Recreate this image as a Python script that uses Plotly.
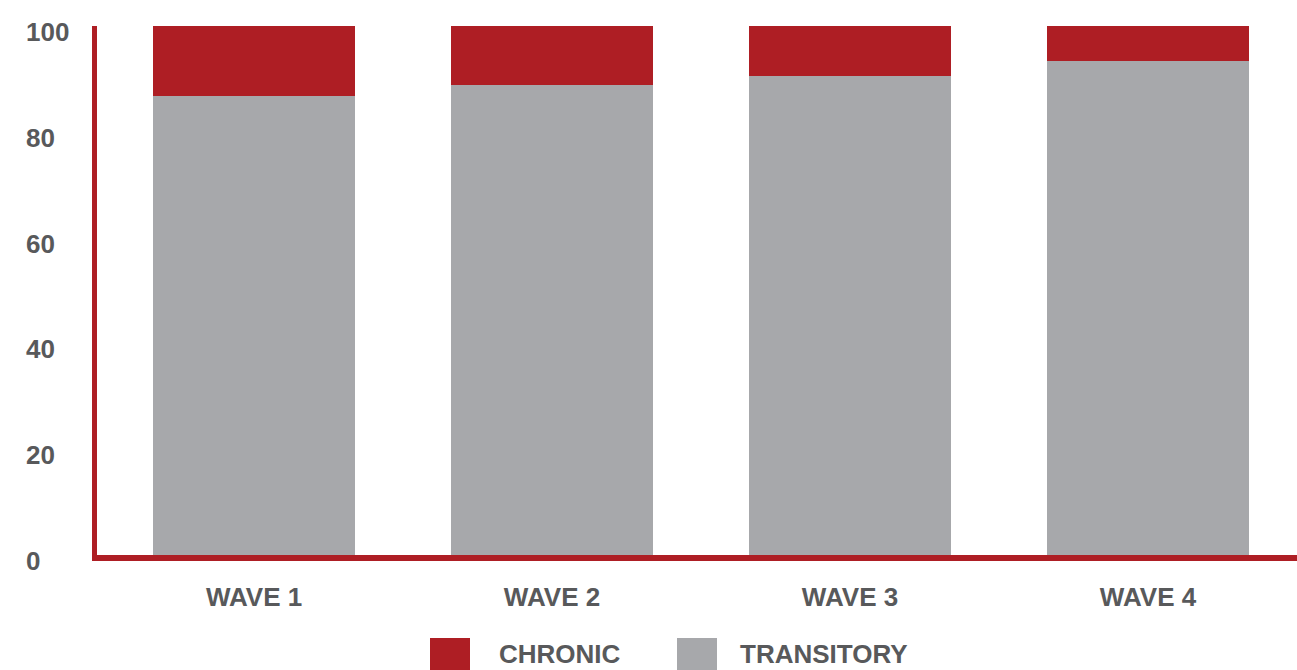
import plotly.graph_objects as go

categories = ["WAVE 1", "WAVE 2", "WAVE 3", "WAVE 4"]
transitory = [86.8, 88.8, 90.5, 93.4]
chronic = [13.2, 11.2, 9.5, 6.6]
y_ticks = [0, 20, 40, 60, 80, 100]
legend_names = ["CHRONIC", "TRANSITORY"]

RED = "#ae1e24"
GREY = "#a7a8ab"
TXT = "#58595b"
FONT = "Liberation Sans, Arial, sans-serif"

W, H = 1297, 670
L, R, T, B = 97, 0, 26, 115
pw, ph = W - L - R, H - T - B

fig = go.Figure()
fig.add_trace(go.Bar(x=categories, y=transitory, name=legend_names[1],
                     marker=dict(color=GREY, line=dict(width=0)), showlegend=False))
fig.add_trace(go.Bar(x=categories, y=chronic, name=legend_names[0],
                     marker=dict(color=RED, line=dict(width=0)), showlegend=False))

fig.update_layout(
    width=W, height=H,
    margin=dict(l=L, r=R, t=T, b=B, pad=0),
    barmode="stack", bargap=0.322,
    plot_bgcolor="white", paper_bgcolor="white",
    xaxis=dict(range=[-0.527, 3.5], showgrid=False, zeroline=False,
               showline=True, linecolor=RED, linewidth=6, ticks="",
               ticklabelstandoff=14,
               tickfont=dict(family=FONT, size=26, color=TXT, weight="bold")),
    yaxis=dict(range=[0, 100], showgrid=False, zeroline=False,
               showline=True, linecolor=RED, linewidth=5, ticks="",
               showticklabels=False),
)

# y tick labels (left-aligned as in reference)
for v in y_ticks:
    fig.add_annotation(xref="paper", yref="y", x=(24 - L) / pw, y=v,
                       text=str(v), showarrow=False, xanchor="left", yanchor="middle",
                       yshift=-6,
                       font=dict(family=FONT, size=26, color=TXT, weight="bold"))

# custom legend with large squares
def px_to_paper_x(px):
    return (px - L) / pw

def px_to_paper_y(py):
    return (H - B - py) / ph

legend_items = [(legend_names[0], RED, 430, 498), (legend_names[1], GREY, 677, 739)]
for name, col, sx, tx in legend_items:
    fig.add_shape(type="rect", xref="paper", yref="paper",
                  x0=px_to_paper_x(sx), x1=px_to_paper_x(sx + 40),
                  y0=px_to_paper_y(678), y1=px_to_paper_y(638),
                  fillcolor=col, line=dict(width=0), layer="above")
    fig.add_annotation(xref="paper", yref="paper", x=px_to_paper_x(tx), y=px_to_paper_y(670),
                       text=name, showarrow=False, xanchor="left", yanchor="bottom",
                       borderpad=0,
                       font=dict(family=FONT, size=26, color=TXT, weight="bold"))

fig.write_html("out.html")
